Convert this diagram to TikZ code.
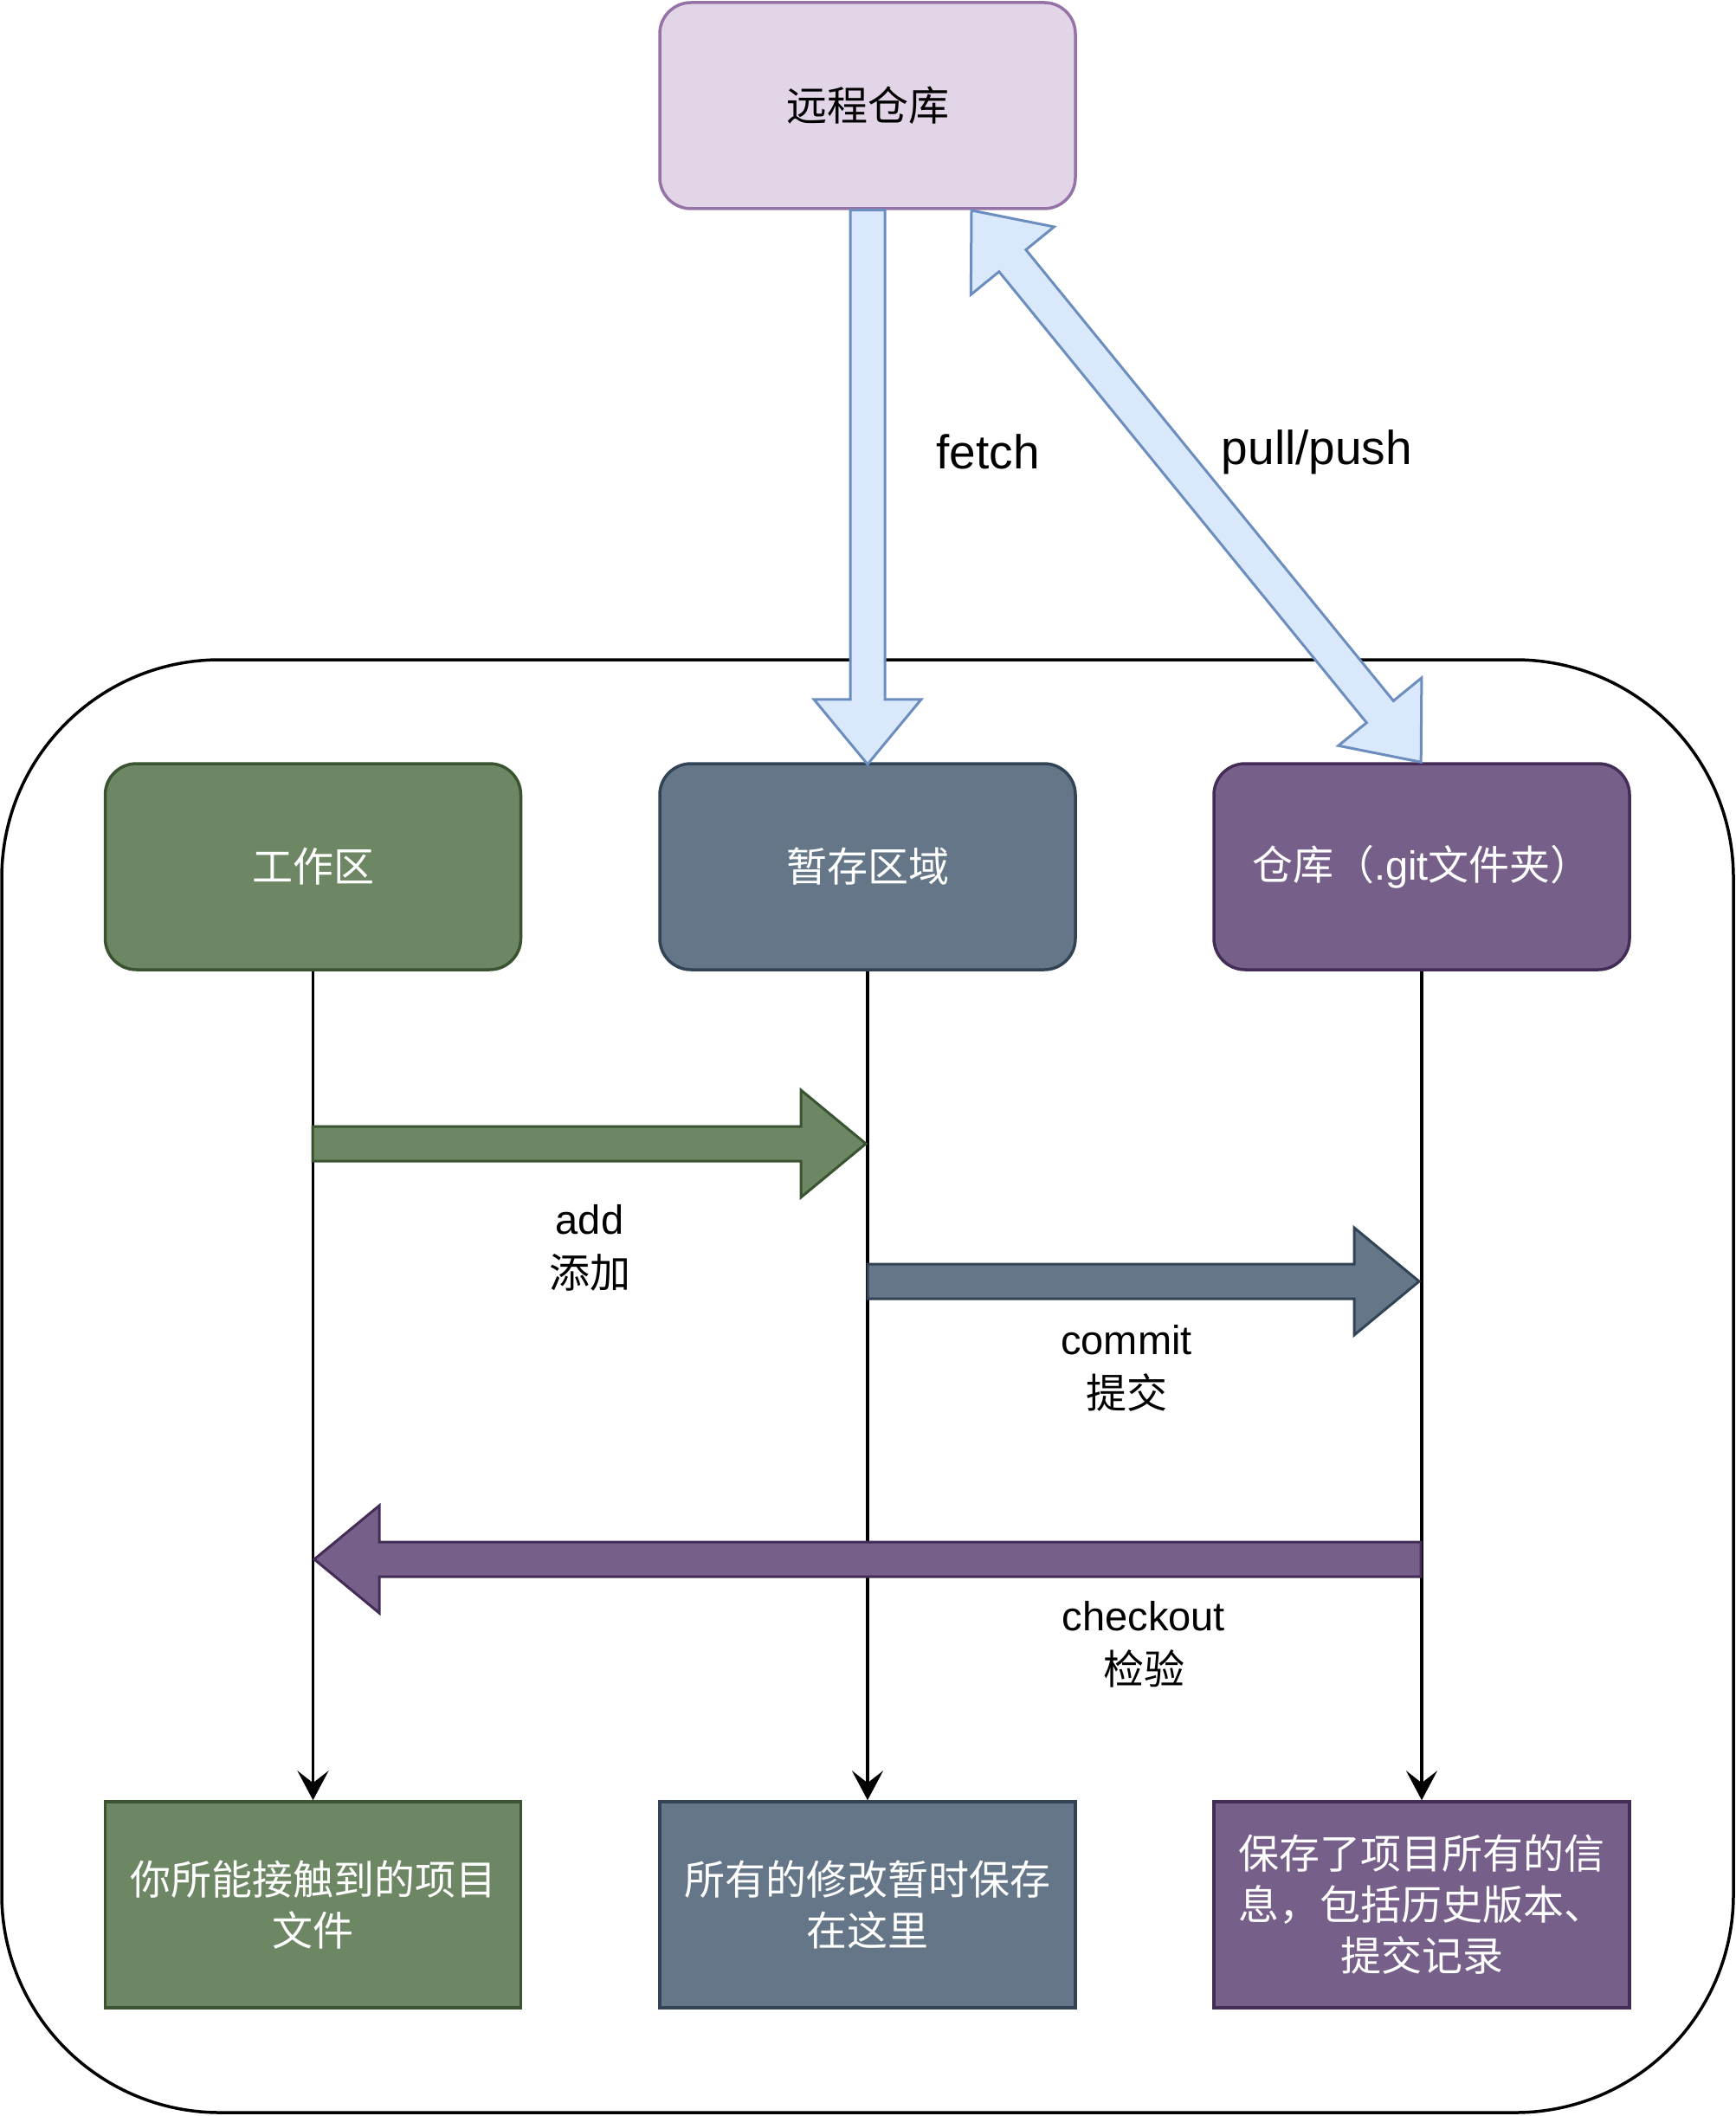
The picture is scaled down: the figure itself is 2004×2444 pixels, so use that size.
\documentclass[tikz,border=0pt]{standalone}
\usepackage{fontspec}
\setmainfont{Liberation Sans}
\newfontfamily\cjk{Noto Sans CJK SC}
\usetikzlibrary{arrows.meta}
\definecolor{remfill}{HTML}{E1D5E7}
\definecolor{remdraw}{HTML}{9673A6}
\definecolor{gfill}{HTML}{6D8764}
\definecolor{gdraw}{HTML}{3A5431}
\definecolor{sfill}{HTML}{647687}
\definecolor{sdraw}{HTML}{314354}
\definecolor{pfill}{HTML}{76608A}
\definecolor{pdraw}{HTML}{432D57}
\definecolor{bfill}{HTML}{DAE8FC}
\definecolor{bdraw}{HTML}{6C8EBF}
\tikzset{
  pics/flexarrow/.style={code={\draw[pic actions] (0,-20) -- ({#1-75},-20) -- ({#1-75},-62) -- (#1,0) -- ({#1-75},62) -- ({#1-75},20) -- (0,20) -- cycle;}},
  pics/dflexarrow/.style={code={\draw[pic actions] (75,-20) -- ({#1-75},-20) -- ({#1-75},-62) -- (#1,0) -- ({#1-75},62) -- ({#1-75},20) -- (75,20) -- (75,62) -- (0,0) -- (75,-62) -- cycle;}},
  box/.style={minimum width=240pt, minimum height=119pt, line width=1.75pt, inner sep=0pt, align=center, font=\fontsize{23.5}{29.5}\selectfont\cjk},
  topbox/.style={box, rounded corners=18pt},
  greenbox/.style={fill=gfill, draw=gdraw, text=white},
  slatebox/.style={fill=sfill, draw=sdraw, text=white},
  purplebox/.style={fill=pfill, draw=pdraw, text=white},
  lifeline/.style={line width=1.75pt, -{Stealth[length=17pt,width=18pt,inset=7pt]}},
  lbl/.style={font=\fontsize{23.5}{31}\selectfont, align=center},
  biglbl/.style={font=\fontsize{27.5}{33}\selectfont},
  blockarrow/.style={line width=1.5pt}
}
\begin{document}
\begin{tikzpicture}[x=0.5pt,y=-0.5pt]
\useasboundingbox (0,0) rectangle (2004,2444);
% container
\node (container) [draw, line width=1.75pt, rounded corners=126pt, minimum width=1000pt, minimum height=839pt, inner sep=0pt] at (1002,1601) {};
% remote
\node (remote) [topbox, fill=remfill, draw=remdraw, text=black] at (1002,122) {远程仓库};
% top boxes
\node (work) [topbox, greenbox] at (361.5,1001) {工作区};
\node (stage) [topbox, slatebox] at (1002,1001) {暂存区域};
\node (repo) [topbox, purplebox] at (1642,1001) {仓库（{\rmfamily .git}文件夹）};
% bottom boxes
\node (workd) [box, greenbox] at (361.5,2200) {你所能接触到的项目\\文件};
\node (staged) [box, slatebox] at (1002,2200) {所有的修改暂时保存\\在这里};
\node (repod) [box, purplebox] at (1642,2200) {保存了项目所有的信\\息，包括历史版本、\\提交记录};
% lifelines
\draw[lifeline] (work.south) -- (workd.north);
\draw[lifeline] (stage.south) -- (staged.north);
\draw[lifeline] (repo.south) -- (repod.north);
% block arrows
\coordinate (addS) at (361,1321);
\coordinate (commitS) at (1002,1480);
\coordinate (checkS) at (1641,1801);
\coordinate (pushS) at (1122,243);
\pic[blockarrow, fill=gfill, draw=gdraw] at (addS) {flexarrow=639};
\pic[blockarrow, fill=sfill, draw=sdraw] at (commitS) {flexarrow=637};
\pic[blockarrow, fill=pfill, draw=pdraw, rotate=180] at (checkS) {flexarrow=1278};
\pic[blockarrow, fill=bfill, draw=bdraw, rotate=-90] at (remote.south) {flexarrow=640};
\pic[blockarrow, fill=bfill, draw=bdraw, rotate=-50.83] at (pushS) {dflexarrow=822};
% labels
\node (fetchl) [biglbl] at (1141,522) {fetch};
\node (pushl) [biglbl] at (1521,522) {pull/push};
\node (addl) [lbl] at (681,1441) {add\\{\cjk 添加}};
\node (commitl) [lbl] at (1301,1580) {commit\\{\cjk 提交}};
\node (checkl) [lbl] at (1321,1899) {checkout\\{\cjk 检验}};
\end{tikzpicture}
\end{document}
